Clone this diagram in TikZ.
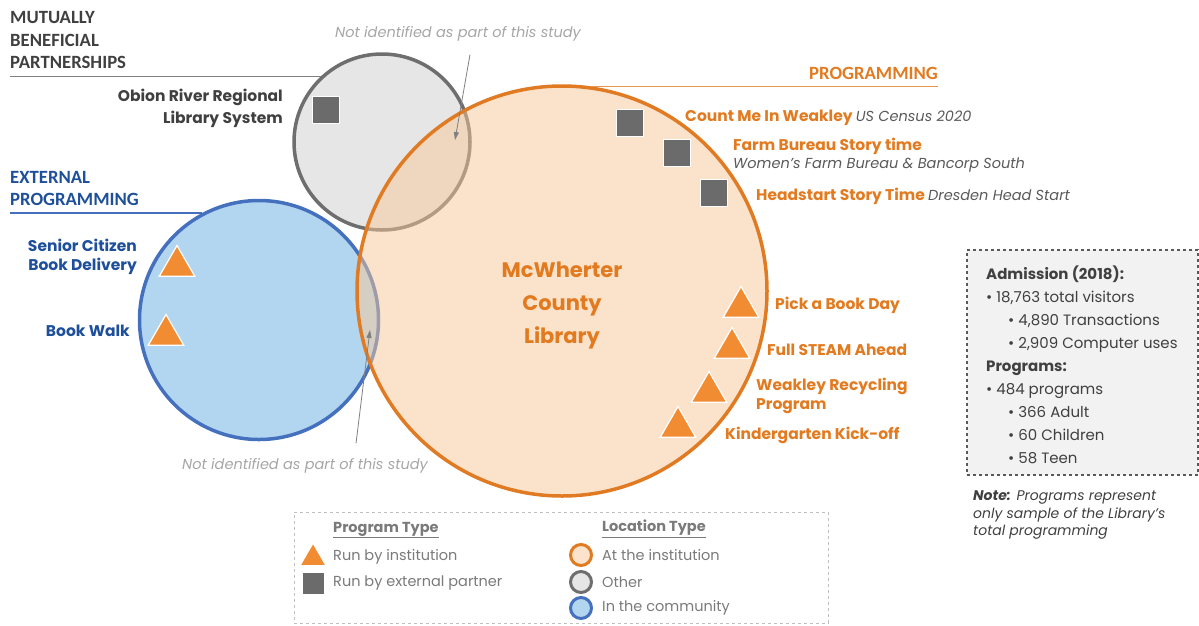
\documentclass[tikz,border=0pt]{standalone}
\usepackage{fontspec}
\setmainfont{Poppins}
\newfontfamily\headfont{Carlito}
\usetikzlibrary{shapes, shapes.geometric, arrows, arrows.meta, positioning}

\definecolor{libline}{HTML}{E07B24}
\definecolor{libfill}{HTML}{F8C898}
\definecolor{libtext}{HTML}{E27A20}
\definecolor{tri}{HTML}{F28C33}
\definecolor{othline}{HTML}{6E6E6E}
\definecolor{othfill}{HTML}{E6E6E6}
\definecolor{comline}{HTML}{4470BE}
\definecolor{comfill}{HTML}{B3D6F0}
\definecolor{comtext}{HTML}{1E4F9A}
\definecolor{sq}{HTML}{6B6B6B}
\definecolor{dark}{HTML}{404040}
\definecolor{note}{HTML}{595959}
\definecolor{faint}{HTML}{A6A6A6}
\definecolor{legtext}{HTML}{7A7A7A}

\newcommand{\partnername}[1]{{\fontsize{14.5}{18}\selectfont\mdseries\itshape\color{note}#1}}

\tikzset{
    venn/.style={circle, inner sep=0pt, line width=3.5pt},
    partner/.style={rectangle, minimum size=27pt, inner sep=0pt, fill=sq, draw=white, line width=1.2pt},
    inst/.style={regular polygon, regular polygon sides=3, minimum size=41pt, inner sep=0pt, fill=tri, draw=white, line width=1.2pt},
    lbl/.style={font=\fontsize{15.5}{19}\selectfont\bfseries, text=libtext, anchor=west, align=left, inner sep=0pt},
    head/.style={font=\headfont\fontsize{18.7}{22.5}\selectfont\bfseries, anchor=west, align=left, inner sep=0pt},
    headline/.style={line width=1.3pt},
    faintnote/.style={font=\fontsize{14.5}{18}\selectfont\itshape, text=faint, inner sep=0pt},
    pointer/.style={draw=gray, line width=0.8pt, -{Triangle[length=8pt, width=5pt]}},
    statbox/.style={rectangle, draw=note, dashed, line width=1.2pt, fill=othfill!50, minimum width=231pt, minimum height=225pt, inner sep=0pt},
    legbox/.style={rectangle, draw=black!25, dashed, line width=1pt, minimum width=534pt, minimum height=111pt, inner sep=0pt},
    legtitle/.style={font=\fontsize{14.5}{18}\selectfont\bfseries, text=legtext, anchor=west, inner sep=0pt},
    legtext/.style={font=\fontsize{14.5}{18}\selectfont, text=legtext, anchor=west, inner sep=0pt},
    legvenn/.style={circle, inner sep=0pt, line width=3pt, minimum size=21pt}
}

\begin{document}
\begin{tikzpicture}[x=1pt, y=-1pt]
    \useasboundingbox (0,0) rectangle (1199,625);

    \node[venn, minimum size=176pt, draw=othline, fill=othfill] (oth) at (382,142) {};
    \node[venn, minimum size=239pt, draw=comline, fill=comfill] (comm) at (259,320) {};
    \node[venn, minimum size=410pt, draw=libline, fill=libfill, fill opacity=.5] (lib) at (562,291) {};

    \node[head, text=dark] (mutHead) at (10,40) {MUTUALLY\\BENEFICIAL\\PARTNERSHIPS};
    \draw[headline, draw=gray] (oth.133) -- (oth.133 -| mutHead.west);
    \node[head, text=comtext] (extHead) at (10,188.5) {EXTERNAL\\PROGRAMMING};
    \draw[headline, draw=comline] (comm.118) -- (comm.118 -| extHead.west);
    \node[head, text=libtext] (progHead) at (809,73) {PROGRAMMING};
    \draw[headline, draw=libline!80] (lib.82) -- (lib.82 -| progHead.east);

    \node[lbl, font=\fontsize{15.5}{22}\selectfont\bfseries, text=dark, anchor=east, align=right] (obion) at (283,108) {Obion River Regional\\Library System};
    \node[partner] (sqObion) at (326,110) {};

    \node[lbl, text=comtext, anchor=east, align=right] (senior) at (137,256.5) {Senior Citizen\\Book Delivery};
    \node[inst] (triSenior) at (177,266) {};
    \node[lbl, text=comtext, anchor=east] (walk) at (130,331) {Book Walk};
    \node[inst] (triWalk) at (166,335) {};

    \node[partner] (sqCount) at (630,123) {};
    \node[lbl] (count) at (685,118) {Count Me In Weakley \partnername{US Census 2020}};
    \node[partner] (sqFarm) at (677,153) {};
    \node[lbl, font=\fontsize{15.5}{18}\selectfont\bfseries] (farm) at (733,155) {Farm Bureau Story time\\\partnername{Women’s Farm Bureau \& Bancorp South}};
    \node[partner] (sqHead) at (714,193) {};
    \node[lbl] (headstart) at (756,196) {Headstart Story Time \partnername{Dresden Head Start}};

    \node[inst] (triPick) at (741,307) {};
    \node[lbl] (pick) at (775,305) {Pick a Book Day};
    \node[inst] (triSteam) at (732,348) {};
    \node[lbl] (steam) at (767,350) {Full STEAM Ahead};
    \node[inst] (triRecycle) at (709,392) {};
    \node[lbl] (recycle) at (756,395.5) {Weakley Recycling\\Program};
    \node[inst] (triKinder) at (678,427) {};
    \node[lbl] (kinder) at (725,435) {Kindergarten Kick-off};

    \node[font=\fontsize{21}{33}\selectfont\bfseries, text=libtext, align=center] (libName) at (562,306) {McWherter\\County\\Library};

    \node[faintnote] (nidTop) at (458,34) {Not identified as part of this study};
    \coordinate (tipTop) at (455,140);
    \draw[pointer] ([xshift=12pt, yshift=-13pt]nidTop.south) -- (tipTop);
    \node[faintnote] (nidBot) at (305,466) {Not identified as part of this study};
    \coordinate (tipBot) at (370,330);
    \draw[pointer] ([xshift=51pt, yshift=15pt]nidBot.north) -- (tipBot);

    \node[statbox] (adm) at (1082.5,362.5) {};
    \node[font=\fontsize{15}{23}\selectfont, text=dark, anchor=west, align=left, inner sep=0pt] (admText) at (986,364.5)
        {\textbf{Admission (2018):}\\
        • 18,763 total visitors\\
        \hspace*{22pt}• 4,890 Transactions\\
        \hspace*{22pt}• 2,909 Computer uses\\
        \textbf{Programs:}\\
        • 484 programs\\
        \hspace*{22pt}• 366 Adult\\
        \hspace*{22pt}• 60 Children\\
        \hspace*{22pt}• 58 Teen};
    \node[font=\fontsize{14}{17.5}\selectfont\itshape, text=dark, anchor=west, align=left, inner sep=0pt] (noteText) at (973,515)
        {\textbf{Note:} Programs represent\\only sample of the Library’s\\total programming};

    \node[legbox] (legend) at (561,567.5) {};
    \node[legtitle] (progType) at (333,530) {\underline{Program Type}};
    \node[inst, minimum size=27pt, draw=none] (legTri) at (313,558) {};
    \node[legtext] (legTriText) at (333,557) {Run by institution};
    \node[partner, minimum size=21pt, draw=none] (legSq) at (313.5,583) {};
    \node[legtext] (legSqText) at (333,583) {Run by external partner};
    \node[legtitle] (locType) at (602,529) {\underline{Location Type}};
    \node[legvenn, draw=libline, fill=libfill!50] (legLib) at (581,555) {};
    \node[legtext] (legLibText) at (602,555) {At the institution};
    \node[legvenn, draw=othline, fill=othfill] (legOth) at (581,582) {};
    \node[legtext] (legOthText) at (602,582) {Other};
    \node[legvenn, draw=comline, fill=comfill] (legCom) at (581,608) {};
    \node[legtext] (legComText) at (602,608) {In the community};
\end{tikzpicture}
\end{document}
